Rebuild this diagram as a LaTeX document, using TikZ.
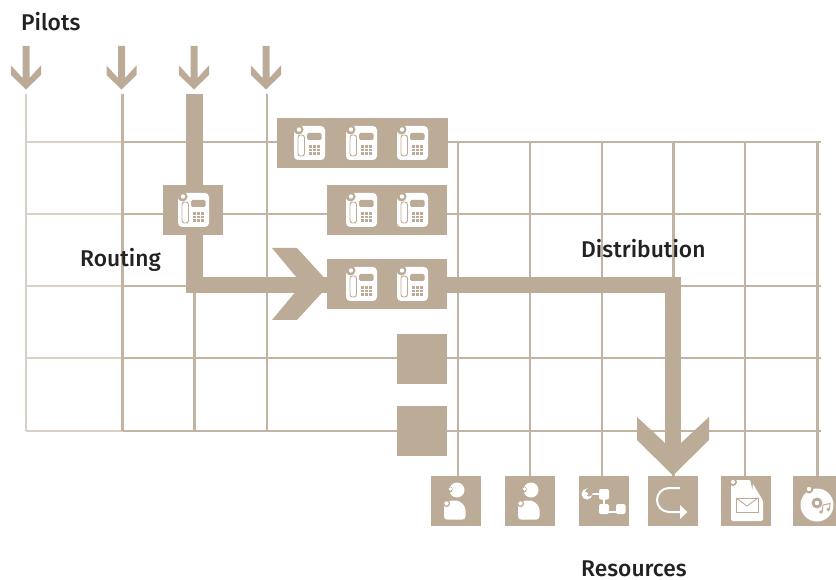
\documentclass[tikz,border=0pt]{standalone}
\usepackage{fontspec}
\setmainfont{Fira Sans}[UprightFont=* Medium]
\definecolor{tan}{HTML}{BBAB97}
\definecolor{tanline}{HTML}{C2B4A2}
\definecolor{tanpale}{HTML}{D9CFC3}
\definecolor{ink}{HTML}{222222}
\tikzset{
  gridline/.style={draw=tanline,line width=2.6pt},
  paleline/.style={draw=tanpale,line width=2.6pt},
  route/.style={draw=tan,line width=16.5pt},
  block/.style={fill=tan,draw=none,inner sep=0pt,minimum height=50pt},
  label/.style={font=\fontsize{22.8}{25}\selectfont,text=ink,anchor=base west,inner sep=0pt},
  icon/.style={fill=white,draw=none},
  iconcut/.style={fill=tan,draw=none}
}
\newcommand\pilotarrow[1]{\fill[tan,shift={(#1,0)}] (-3.5,46)--(3.5,46)--(3.5,78)--(15,65.5)--(15,75)--(0,89.5)--(-15,75)--(-15,65.5)--(-3.5,78)--cycle;}
\newcommand\phoneicon[2]{\begin{scope}[shift={(#1,#2)}]
  \fill[icon,rounded corners=4pt] (0,0)--(31,0)--(31,34)--(0,34)--cycle;
  \fill[iconcut] (4.5,3.5) circle (5);
  \fill[icon] (5,3.5) circle (2.2);
  \draw[draw=tan,fill=white,line width=.9pt,rounded corners=2.5pt] (4,9) rectangle (10.5,30);
  \fill[iconcut,rounded corners=1.5pt] (13,7) rectangle (27.5,14);
  \foreach \i in {0,1,2} \foreach \j in {0,1,2}
    \fill[iconcut] ({14.5+4.3*\i},{19+3.6*\j}) rectangle ++(3,2.6);
\end{scope}}
\newcommand\personicon[1]{\begin{scope}[shift={(#1,476)}]
  \fill[icon] (26,14) circle (7.5);
  \fill[iconcut] (18.5,13.5) circle (3.2);
  \fill[icon] (19.5,13) circle (1.8);
  \fill[icon,rounded corners=3pt] (13,43.5)--(13,27)--(19,24.5)--(28,24.5)--(34.5,31)--(34.5,43.5)--cycle;
  \fill[iconcut] (15.5,27.5) circle (3.6);
  \fill[icon] (15.5,27.5) circle (2.2);
\end{scope}}
\begin{document}
\begin{tikzpicture}[x=1pt,y=-1pt]
\useasboundingbox (0,0) rectangle (836,580);
% grid anchors
\foreach \n/\x in {a/26,b/122.5,c/194.5,d/267,e/458,f/530,g/602,h/673.5,i/745,j/817.5}{
  \coordinate (top\n) at (\x,94);
  \coordinate (mid\n) at (\x,142);
  \coordinate (low\n) at (\x,431);
  \coordinate (res\n) at (\x,476);
}
\foreach \r/\y in {1/142,2/214,3/286,4/358,5/431}{
  \coordinate (rowa\r) at (26,\y);
  \coordinate (rowb\r) at (122.5,\y);
  \coordinate (rowz\r) at (821,\y);
  \draw[paleline] (rowa\r) -- (rowb\r);
  \draw[gridline] (rowb\r) -- (rowz\r);
}
\draw[paleline] (topa) -- (lowa);
\foreach \n in {b,c,d} \draw[gridline] (top\n) -- (low\n);
\foreach \n in {e,f,g,h,i,j} \draw[gridline] (mid\n) -- (res\n);
% pilots
\pilotarrow{26}\pilotarrow{121.5}\pilotarrow{194}\pilotarrow{266}
% trunks
\node[block,minimum width=171pt] (bank1) at (362.5,143) {};
\node[block,minimum width=120pt] (bank2) at (387,210) {};
\node[block,minimum width=120pt] (bank3) at (387,284) {};
\node[block,minimum width=60pt] (bank0) at (193,210) {};
\node[block,minimum width=50pt] (sq1) at (422,359) {};
\node[block,minimum width=50pt] (sq2) at (422,431) {};
\node[block,minimum width=50pt] (r1) at (456,501) {};
\node[block,minimum width=50pt] (r2) at (530,501) {};
\node[block,minimum width=50pt] (r3) at (604,501) {};
\node[block,minimum width=50pt] (r4) at (673,501) {};
\node[block,minimum width=50pt] (r5) at (746,501) {};
\node[block,minimum width=43pt] (r6) at (814.5,501) {};
% routes
\coordinate (routein) at (194.5,94);
\coordinate (routebend) at (194.5,285);
\coordinate (distbend) at (673,285);
\coordinate (disthead) at (673,445);
\draw[route,line join=miter] (routein) -- (routebend) -- (bank3.west |- routebend);
\draw[route,line join=miter] (bank3.east |- distbend) -- (distbend) -- (disthead);
\fill[tan] (272,248)--(297,248)--(330,284)--(297,320)--(272,320)--(302,284)--cycle;
\fill[tan] (637,417)--(665,443)--(681,443)--(709,417)--(709,440)--(673,475.5)--(637,440)--cycle;
% phones
\phoneicon{294}{126}\phoneicon{346}{126}\phoneicon{397}{126}
\phoneicon{346}{193}\phoneicon{397}{193}
\phoneicon{346}{267}\phoneicon{397}{267}
\phoneicon{178}{193}
% resource icons
\personicon{431}\personicon{505}
\begin{scope}[shift={(579,476)}]
  \draw[white,line width=1.3pt] (10,18)--(25,18)--(25,36)--(42,36);
  \fill[icon] (8,18) circle (5.5);
  \fill[iconcut] (10,16.5) circle (4);
  \fill[icon] (7,18) circle (2);
  \fill[icon,rounded corners=2pt] (20,13) rectangle (30,23.5);
  \fill[icon,rounded corners=2pt] (20,28) rectangle (30,38);
  \fill[icon,rounded corners=2pt] (37,28) rectangle (46.5,38);
\end{scope}
\begin{scope}[shift={(648,476)}]
  \draw[white,line width=2pt] (32,12)--(21,12) arc[start angle=90,end angle=270,x radius=12pt,y radius=12pt]--(36,36);
  \fill[icon] (32,29)--(39.5,36)--(32,43)--cycle;
\end{scope}
\begin{scope}[shift={(721,476)}]
  \fill[icon,rounded corners=2pt] (10,4)--(30,4)--(42,24)--(42,45)--(10,45)--cycle;
  \fill[iconcut] (29,3)--(33,1)--(46,18)--(42,23)--(33,21)--cycle;
  \fill[icon] (32,8)--(30.5,20)--(41,23)--cycle;
  \fill[iconcut] (12,6) circle (4);
  \fill[icon] (12,6) circle (2);
  \draw[tan,line width=.9pt] (15,22) rectangle (37,36);
  \draw[tan,line width=.9pt] (15,22)--(26,30)--(37,22);
\end{scope}
\begin{scope}[shift={(793,476)}]
  \fill[icon] (24,29) circle (16.5);
  \fill[iconcut] (16,13) circle (4.5);
  \fill[icon] (16,13) circle (2.2);
  \fill[iconcut] (24,27) circle (5.5);
  \fill[icon] (24,27) circle (2.2);
  \draw[tan,line width=1pt] (29,36)--(30,29)--(37,27.5)--(36.5,33);
  \fill[tan] (28,36) circle (1.8);
  \fill[tan] (35.2,33.5) circle (1.8);
\end{scope}
% labels
\node[label] (pilots) at (21,31) {Pilots};
\node[label] (routing) at (80,267) {Routing};
\node[label] (distribution) at (581,258) {Distribution};
\node[label] (resources) at (581,576.5) {Resources};
\end{tikzpicture}
\end{document}
